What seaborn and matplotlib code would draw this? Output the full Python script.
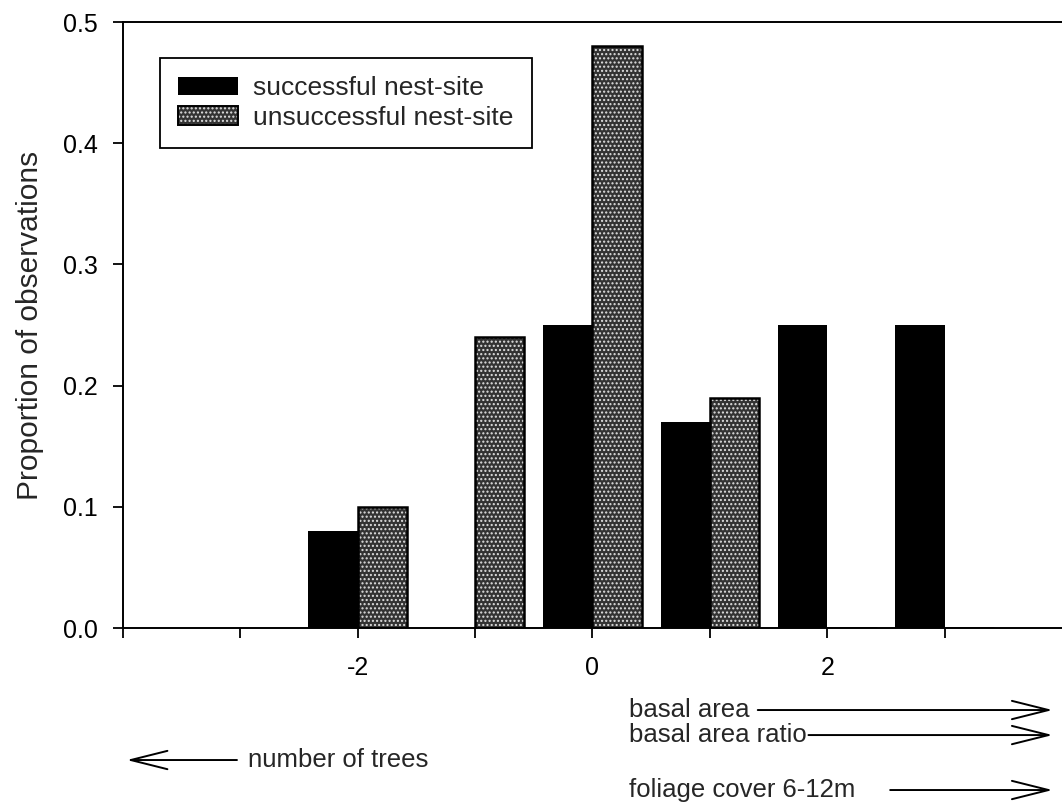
import matplotlib
matplotlib.use("Agg")
import matplotlib.pyplot as plt
import seaborn as sns
import pandas as pd

# ---- data ----
score = [-2, -1, 0, 1, 2, 3]
successful = [0.08, 0.0, 0.25, 0.17, 0.25, 0.25]
unsuccessful = [0.10, 0.24, 0.48, 0.19, 0.0, 0.0]
series_names = ["successful nest-site", "unsuccessful nest-site"]
x_ticks = [-4, -3, -2, -1, 0, 1, 2, 3]
x_labels = ["", "", "-2", "", "0", "", "2", ""]
y_ticks = [0.0, 0.1, 0.2, 0.3, 0.4, 0.5]
y_label = "Proportion of observations"

df = pd.DataFrame({
    "score": score * 2,
    "proportion": successful + unsuccessful,
    "site": [series_names[0]] * len(score) + [series_names[1]] * len(score),
})

sns.set_theme(style="ticks")
plt.rcParams["font.family"] = ["Liberation Sans", "DejaVu Sans"]

fig = plt.figure(figsize=(10.62, 8.06), dpi=100)
ax = fig.add_axes([0.1158, 0.2208, 0.8842, 0.7519])

sns.barplot(data=df, x="score", y="proportion", hue="site", native_scale=True,
            dodge=True, width=0.84,
            palette={series_names[0]: "black", series_names[1]: "#333333"},
            hue_order=series_names, saturation=1, errorbar=None, ax=ax, legend=True)

HATCH_COL = (0.88, 0.88, 0.88, 1.0)
conts = ax.containers
for bar in conts[0]:
    bar.set_linewidth(0)
for bar in conts[1]:
    bar.set_hatch("....")
    bar.set_edgecolor("black")
    bar.set_linewidth(1.8)
    bar._hatch_color = HATCH_COL

ax.set_xlim(-4, 4)
ax.set_ylim(0, 0.5)
ax.set_xticks(x_ticks)
ax.set_xticklabels(x_labels)
ax.set_yticks(y_ticks)
ax.set_yticklabels([f"{v:.1f}" for v in y_ticks])
ax.tick_params(axis="both", direction="out", length=7, width=1.3, colors="black", labelsize=18)
ax.tick_params(axis="x", pad=13)
ax.tick_params(axis="y", pad=11)
ax.set_xlabel("")
ax.set_ylabel(y_label, fontsize=21.5, labelpad=14)
for s in ["left", "bottom", "top"]:
    ax.spines[s].set_color("black")
    ax.spines[s].set_linewidth(1.4)
ax.spines["right"].set_visible(False)

# legend
handles, labels = ax.get_legend_handles_labels()
leg = ax.legend(handles=handles, labels=labels, loc="upper left", bbox_to_anchor=(0.0394, 0.9406),
                fontsize=19, frameon=True, fancybox=False, framealpha=1, edgecolor="black",
                handlelength=2.27, handleheight=0.68, handletextpad=0.57, labelspacing=0.2,
                borderpad=0.7, borderaxespad=0)
leg.get_frame().set_linewidth(1.3)
lh = leg.legend_handles
lh[0].set_linewidth(0)
lh[1].set_hatch("....")
lh[1].set_edgecolor("black")
lh[1].set_linewidth(1.4)
lh[1]._hatch_color = HATCH_COL

# direction annotations below the axis
arrow = dict(arrowstyle="->,head_length=2.2,head_width=0.55", color="black", lw=1.4,
             shrinkA=0, shrinkB=0, mutation_scale=12)
TXT = 18.5
ann = dict(xycoords="axes fraction", textcoords="axes fraction", arrowprops=arrow,
           annotation_clip=False)

ax.text(0.539, -0.1353, "basal area", transform=ax.transAxes, fontsize=TXT, va="center")
ax.annotate("", xy=(0.990, -0.1353), xytext=(0.676, -0.1353), **ann)
ax.text(0.539, -0.1766, "basal area ratio", transform=ax.transAxes, fontsize=TXT, va="center")
ax.annotate("", xy=(0.990, -0.1766), xytext=(0.730, -0.1766), **ann)
ax.text(0.539, -0.2673, "foliage cover 6-12m", transform=ax.transAxes, fontsize=TXT, va="center")
ax.annotate("", xy=(0.990, -0.2673), xytext=(0.817, -0.2673), **ann)
ax.text(0.1331, -0.2178, "number of trees", transform=ax.transAxes, fontsize=TXT, va="center")
ax.annotate("", xy=(0.004, -0.2178), xytext=(0.1214, -0.2178), **ann)

fig.savefig("out.png", dpi=100)
